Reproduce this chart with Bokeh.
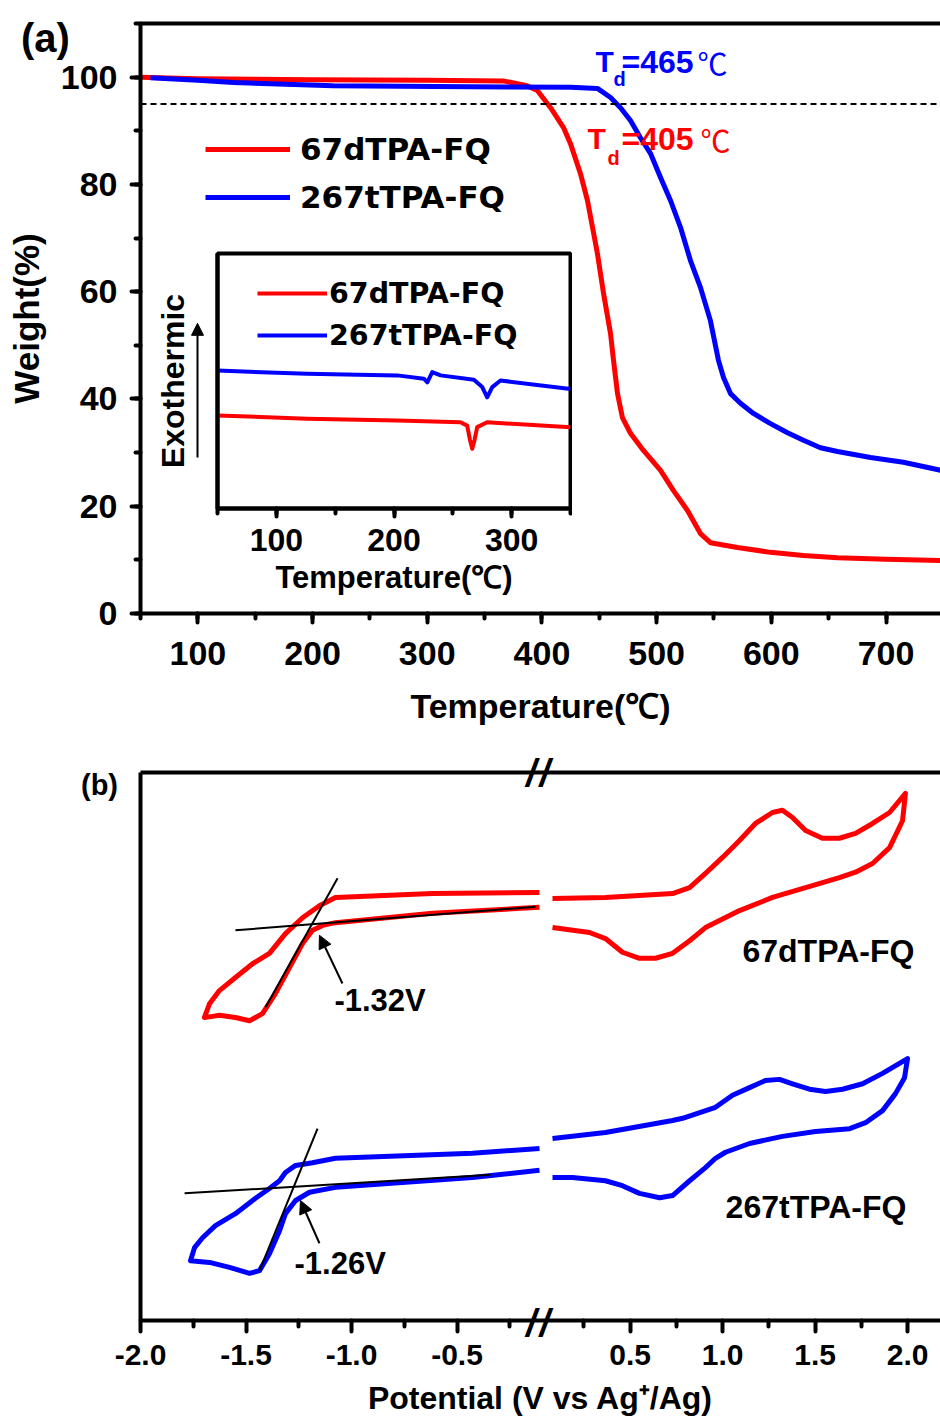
from bokeh.plotting import figure
from bokeh.models import (LinearAxis, SingleIntervalTicker, FixedTicker, Span, Label, Legend,
                          LegendItem, Arrow, NormalHead, CustomJSTickFormatter, GridBox, Column, Div)
from bokeh.embed import file_html
from bokeh.resources import INLINE

# ---------------- data ----------------
# (a) TGA
tga_red_T = [50, 100, 200, 300, 366, 387, 396, 407.5, 418.8, 424.9, 433.6, 439.7, 448.4, 453.7, 459.8,
             462.4, 465.9, 470.2, 477.2, 488.5, 503.4, 514.7, 526.9, 538.2, 546.9, 570.5, 599.3, 628.0,
             657.7, 700.0, 747.5]
tga_red_W = [100.0, 99.7, 99.5, 99.4, 99.3, 98.4, 97.5, 94.3, 90.6, 87.6, 82.0, 77.0, 67.1, 59.7, 52.2,
             47.2, 41.0, 36.5, 33.6, 30.4, 26.7, 22.9, 19.2, 14.9, 13.2, 12.3, 11.4, 10.8, 10.4, 10.1, 9.9]
tga_blue_T = [58.7, 100, 131, 218, 337.7, 425, 448.4, 459.8, 468.5, 477.2, 485.9, 494.6, 503.4, 512.1,
              520.8, 529.5, 538.2, 546.9, 553.9, 558.3, 564.4, 573.1, 584.4, 599.3, 614.1, 628.0, 642.8,
              657.7, 686.5, 715.2, 747.5]
tga_blue_W = [99.9, 99.4, 99.0, 98.4, 98.2, 98.1, 97.9, 96.2, 94.3, 91.9, 88.7, 85.8, 81.3, 77.0, 72.0,
              65.8, 60.8, 54.6, 47.2, 44.0, 41.0, 39.2, 37.3, 35.4, 33.7, 32.3, 30.9, 30.2, 29.1, 28.2, 26.7]
td_level = 95
td_red, td_blue = 405, 465

# (a) inset DSC (arbitrary heat-flow units)
dsc_blue_T = [50, 126, 202.8, 225.4, 228.3, 232.5, 239.6, 267.9, 275.0, 279.2, 283.5, 290.5, 350]
dsc_blue_H = [54.1, 52.8, 52.2, 50.9, 49.5, 53.5, 52.2, 50.5, 47.6, 43.6, 47.6, 50.2, 46.9]
dsc_red_T = [50, 126, 202.8, 256.5, 262.2, 264.5, 266.5, 268.5, 270.7, 279.2, 350]
dsc_red_H = [36.5, 35.2, 34.5, 33.8, 32.5, 27.0, 23.4, 27.0, 31.9, 33.8, 31.9]

# (b) CV, potential (V vs Ag+/Ag) and current (a.u.)
cv_red_left_V = [-0.109, -0.616, -1.076, -1.152, -1.232, -1.313, -1.389, -1.469, -1.550, -1.626, -1.673,
                 -1.697, -1.659, -1.626, -1.550, -1.483, -1.422, -1.360, -1.294, -1.232, -1.185, -1.137,
                 -1.076, -0.616, -0.109]
cv_red_left_I = [78.1, 77.9, 77.2, 75.7, 73.5, 70.6, 67.0, 65.1, 62.6, 60.2, 57.8,
                 55.3, 55.5, 55.7, 55.3, 54.7, 56.0, 59.7, 64.4, 68.8, 71.2, 72.1,
                 72.6, 74.3, 75.4]
cv_red_right_V = [0.080, 0.366, 0.729, 0.821, 0.907, 0.999, 1.091, 1.177, 1.269, 1.323, 1.377, 1.448,
                  1.539, 1.631, 1.718, 1.810, 1.902, 1.988, 1.972, 1.902, 1.810, 1.718, 1.631, 1.448,
                  1.269, 1.091, 0.907, 0.821, 0.729, 0.637, 0.550, 0.458, 0.366, 0.280, 0.080]
cv_red_right_I = [77.0, 77.2, 77.9, 79.0, 81.6, 84.5, 87.6, 90.7, 92.7, 93.1, 91.8, 89.4,
                  88.0, 88.0, 88.9, 90.7, 92.7, 96.2, 91.2, 86.3, 83.4, 81.8, 80.8, 79.0,
                  77.2, 74.8, 71.7, 69.3, 67.0, 66.1, 66.1, 67.2, 69.7, 70.8, 71.7]
cv_blue_left_V = [-0.109, -0.427, -1.076, -1.185, -1.265, -1.313, -1.341, -1.389, -1.455, -1.550, -1.645,
                  -1.706, -1.744, -1.763, -1.673, -1.578, -1.483, -1.436, -1.389, -1.341, -1.313, -1.265,
                  -1.199, -1.076, -0.427, -0.109]
cv_blue_left_I = [31.4, 30.5, 29.6, 28.8, 28.3, 27.0, 25.5, 24.1, 22.3, 19.5, 17.3,
                  15.1, 13.3, 10.9, 10.6, 9.7, 8.6, 9.1, 12.2, 16.4, 19.5, 21.9,
                  23.4, 24.3, 26.1, 27.4]
cv_blue_right_V = [0.080, 0.366, 0.729, 0.783, 0.961, 1.053, 1.145, 1.231, 1.307, 1.377, 1.469, 1.556,
                   1.648, 1.756, 1.864, 1.999, 1.983, 1.934, 1.864, 1.772, 1.686, 1.502, 1.323, 1.145,
                   1.015, 0.961, 0.907, 0.821, 0.729, 0.659, 0.550, 0.458, 0.366, 0.188, 0.080]
cv_blue_right_I = [33.2, 34.3, 36.5, 36.9, 38.9, 41.1, 42.5, 43.8, 44.0, 43.2, 42.2, 41.8,
                   42.2, 43.2, 45.1, 47.8, 44.3, 41.4, 38.3, 36.1, 35.0, 34.5, 33.6, 32.3,
                   30.7, 29.6, 27.9, 25.5, 22.8, 22.4, 23.2, 24.6, 25.5, 26.1, 26.1]
# onset tangents
tan_red_base_V, tan_red_base_I = [-1.550, -0.128], [71.2, 75.5]
tan_red_rise_V, tan_red_rise_I = [-1.408, -1.066], [57.1, 80.7]
tan_blue_base_V, tan_blue_base_I = [-1.791, -0.341], [23.2, 26.6]
tan_blue_rise_V, tan_blue_rise_I = [-1.436, -1.161], [9.1, 35.0]
onset_red, onset_blue = "-1.32V", "-1.26V"

cv_major = [-2.0, -1.5, -1.0, -0.5, 0.5, 1.0, 1.5, 2.0]
cv_minor = [-1.75, -1.25, -0.75, -0.25, 0.25, 0.75, 1.25, 1.75]

# ---------------- style ----------------
FONT = "Liberation Sans"
LEG_FONT = "DejaVu Sans"
RED = "#ff0000"
BLUE = "#0000ff"

# broken potential axis: right part compressed and shifted
V_R0 = 0.08
U_R0 = -2.0 + 412.0 / 211.0
K_R = 185.0 / 211.0
BREAK_U = (-0.109 + U_R0) / 2.0


def to_axis(v):
    return v if v < 0 else U_R0 + (v - V_R0) * K_R


def style_axis(ax, size, lw=4, tout=9, mout=5):
    ax.axis_line_width = lw
    ax.axis_line_color = "black"
    ax.major_tick_line_width = lw
    ax.minor_tick_line_width = lw
    ax.major_tick_line_cap = "round"
    ax.minor_tick_line_cap = "round"
    ax.major_tick_in = 0
    ax.minor_tick_in = 0
    ax.major_tick_out = tout
    ax.minor_tick_out = mout
    ax.major_label_text_font = FONT
    ax.major_label_text_font_style = "bold"
    ax.major_label_text_font_size = size
    ax.major_label_text_color = "black"
    ax.axis_label_text_font = FONT
    ax.axis_label_text_font_style = "bold"
    ax.axis_label_text_color = "black"


def top_border(p, lw=4):
    ax = LinearAxis(ticker=FixedTicker(ticks=[]), axis_line_width=lw, major_label_text_font_size="0px",
                    major_tick_line_color=None, minor_tick_line_color=None)
    p.add_layout(ax, "above")


def add_label(p, x, y, text, color="black", size="30px", style="bold", font=FONT):
    p.add_layout(Label(x=x, y=y, text=text, text_color=color, text_font=font, text_font_style=style,
                       text_font_size=size, text_baseline="middle", text_align="left"))


def text_div(text, top, left, size, style="normal", w=120, h=60, spacing="0px"):
    css = {"font-family": FONT, "font-weight": "bold", "font-style": style, "font-size": size,
           "line-height": "1", "color": "black", "letter-spacing": spacing, "white-space": "nowrap"}
    return Div(text=text, width=w, height=h, margin=(top, 0, 0, left), align="start", styles=css)


# ---------------- panel (a) ----------------
pa = figure(width=940, height=738, x_range=(50, 747.5), y_range=(0, 110), output_backend="svg",
            toolbar_location=None, min_border_left=140, min_border_right=0, min_border_top=23,
            min_border_bottom=125)
pa.outline_line_color = None
pa.xgrid.visible = False
pa.ygrid.visible = False
pa.xaxis.ticker = SingleIntervalTicker(interval=100, num_minor_ticks=2)
pa.yaxis.ticker = SingleIntervalTicker(interval=20, num_minor_ticks=2)
style_axis(pa.xaxis[0], "34px")
style_axis(pa.yaxis[0], "34px")
pa.xaxis.axis_label = "Temperature(℃)"
pa.xaxis.axis_label_text_font_size = "34px"
pa.xaxis.major_label_standoff = 19
pa.xaxis.axis_label_standoff = 19
pa.yaxis.axis_label = "Weight(%)"
pa.yaxis.axis_label_text_font_size = "35px"
pa.yaxis.major_label_standoff = 14
pa.yaxis.axis_label_standoff = 12
top_border(pa)

pa.add_layout(Span(location=td_level, dimension="width", line_color="black", line_dash="6 4", line_width=2))
r_red = pa.line(tga_red_T, tga_red_W, line_color=RED, line_width=5, line_join="round")
r_blue = pa.line(tga_blue_T, tga_blue_W, line_color=BLUE, line_width=5, line_join="round")

leg = Legend(items=[LegendItem(label="67dTPA-FQ", renderers=[r_red]),
                    LegendItem(label="267tTPA-FQ", renderers=[r_blue])],
             location=(65, 393), glyph_width=85, glyph_height=46, label_height=46, spacing=2,
             padding=0, margin=0, label_standoff=10, border_line_color=None, background_fill_alpha=0,
             label_text_font=LEG_FONT, label_text_font_style="bold", label_text_font_size="31px",
             label_text_color="black")
pa.add_layout(leg)

add_label(pa, 446.7, 102.9, "T", BLUE)
add_label(pa, 462.4, 99.6, "d", BLUE, size="20px")
add_label(pa, 469.4, 102.9, f"={td_blue}", BLUE, size="32px")
add_label(pa, 535.6, 102.9, "℃", BLUE, size="30px", style="normal", font="Noto Sans CJK SC")
add_label(pa, 439.7, 88.5, "T", RED)
add_label(pa, 457.1, 85.0, "d", RED, size="20px")
add_label(pa, 469.4, 88.5, f"={td_red}", RED, size="32px")
add_label(pa, 538.2, 88.5, "℃", RED, size="30px", style="normal", font="Noto Sans CJK SC")

# "Exothermic" arrow of the inset (drawn in the main frame, beside the inset axis)
pa.add_layout(Arrow(end=NormalHead(size=12, fill_color="black", line_color="black"),
                    x_start=99.7, y_start=29.1, x_end=99.7, y_end=54.1, line_width=2, line_color="black"))

# ---------------- inset ----------------
pi = figure(width=495, height=403, x_range=(50, 350), y_range=(0, 100), output_backend="svg",
            toolbar_location=None, min_border_left=140, min_border_right=2, min_border_top=23,
            min_border_bottom=125)
pi.outline_line_color = "black"
pi.outline_line_width = 4
pi.background_fill_alpha = 0
pi.border_fill_alpha = 0
pi.xgrid.visible = False
pi.ygrid.visible = False
pi.xaxis.ticker = SingleIntervalTicker(interval=100, num_minor_ticks=2)
style_axis(pi.xaxis[0], "32px", lw=4, tout=8, mout=5)
pi.xaxis.major_label_standoff = 12
pi.xaxis.axis_label = "Temperature(℃)"
pi.xaxis.axis_label_text_font_size = "31px"
pi.xaxis.axis_label_standoff = 6
pi.yaxis.ticker = FixedTicker(ticks=[])
style_axis(pi.yaxis[0], "0px")
pi.yaxis.axis_label = "Exothermic"
pi.yaxis.axis_label_text_font_size = "32px"
pi.yaxis.axis_label_standoff = 27

d_red = pi.line(dsc_red_T, dsc_red_H, line_color=RED, line_width=4, line_join="round")
d_blue = pi.line(dsc_blue_T, dsc_blue_H, line_color=BLUE, line_width=4, line_join="round")
leg_i = Legend(items=[LegendItem(label="67dTPA-FQ", renderers=[d_red]),
                      LegendItem(label="267tTPA-FQ", renderers=[d_blue])],
               location=(40, 153), glyph_width=70, glyph_height=40, label_height=40, spacing=2,
               padding=0, margin=0, label_standoff=2, border_line_color=None, background_fill_alpha=0,
               label_text_font=LEG_FONT, label_text_font_style="bold", label_text_font_size="28.5px",
               label_text_color="black")
pi.add_layout(leg_i)
inset_box = Column(children=[pi], margin=(230, 0, 0, 77), align="start")

# ---------------- panel (b) ----------------
pb = figure(width=940, height=689, x_range=(-2.0, -2.0 + 800.0 / 211.0), y_range=(0, 100),
            output_backend="svg", toolbar_location=None, min_border_left=140, min_border_right=0,
            min_border_top=34, min_border_bottom=107)
pb.outline_line_color = None
pb.xgrid.visible = False
pb.ygrid.visible = False
pb.xaxis.ticker = FixedTicker(ticks=[to_axis(v) for v in cv_major], minor_ticks=[to_axis(v) for v in cv_minor])
pb.xaxis.formatter = CustomJSTickFormatter(code=f"""
const v = (tick > {BREAK_U}) ? {V_R0} + (tick - ({U_R0})) / {K_R} : tick;
return v.toFixed(1);
""")
style_axis(pb.xaxis[0], "30px", lw=4, tout=11, mout=6)
pb.xaxis.major_label_standoff = 13
pb.xaxis.axis_label = "Potential (V vs Ag⁺/Ag)"
pb.xaxis.axis_label_text_font_size = "32px"
pb.xaxis.axis_label_standoff = 12
pb.yaxis.ticker = FixedTicker(ticks=[])
style_axis(pb.yaxis[0], "0px")
top_border(pb)

for V, I, c in [(cv_red_left_V, cv_red_left_I, RED), (cv_red_right_V, cv_red_right_I, RED),
                (cv_blue_left_V, cv_blue_left_I, BLUE), (cv_blue_right_V, cv_blue_right_I, BLUE)]:
    pb.line([to_axis(v) for v in V], I, line_color=c, line_width=5, line_join="round")

for V, I in [(tan_red_base_V, tan_red_base_I), (tan_red_rise_V, tan_red_rise_I),
             (tan_blue_base_V, tan_blue_base_I), (tan_blue_rise_V, tan_blue_rise_I)]:
    pb.line([to_axis(v) for v in V], I, line_color="black", line_width=2)

pb.add_layout(Arrow(end=NormalHead(size=13, fill_color="black", line_color="black"),
                    x_start=-1.043, y_start=61.5, x_end=-1.152, y_end=70.3, line_width=2))
pb.add_layout(Arrow(end=NormalHead(size=13, fill_color="black", line_color="black"),
                    x_start=-1.152, y_start=14.1, x_end=-1.242, y_end=21.9, line_width=2))
add_label(pb, -1.081, 58.4, onset_red, size="31px")
add_label(pb, -1.270, 10.4, onset_blue, size="31px")
add_label(pb, 0.853, 67.5, "67dTPA-FQ", size="32px")
add_label(pb, 0.773, 20.8, "267tTPA-FQ", size="32px")

# panel letters and axis-break marks (outside the plot frames)
div_a = text_div("(a)", 18, 21, "40px")
div_b = text_div("(b)", 33, 81, "29px")
brk_top = text_div("//", 16, 526, "38px", style="italic", w=60, h=45, spacing="3px")
brk_bot = text_div("//", 566, 526, "38px", style="italic", w=60, h=45, spacing="3px")

pa.align = "start"
pb.align = "start"
layout = GridBox(children=[(pa, 0, 0), (inset_box, 0, 0), (div_a, 0, 0),
                           (pb, 1, 0), (div_b, 1, 0), (brk_top, 1, 0), (brk_bot, 1, 0)], spacing=0)

open("out.html", "w").write(file_html(layout, INLINE))
